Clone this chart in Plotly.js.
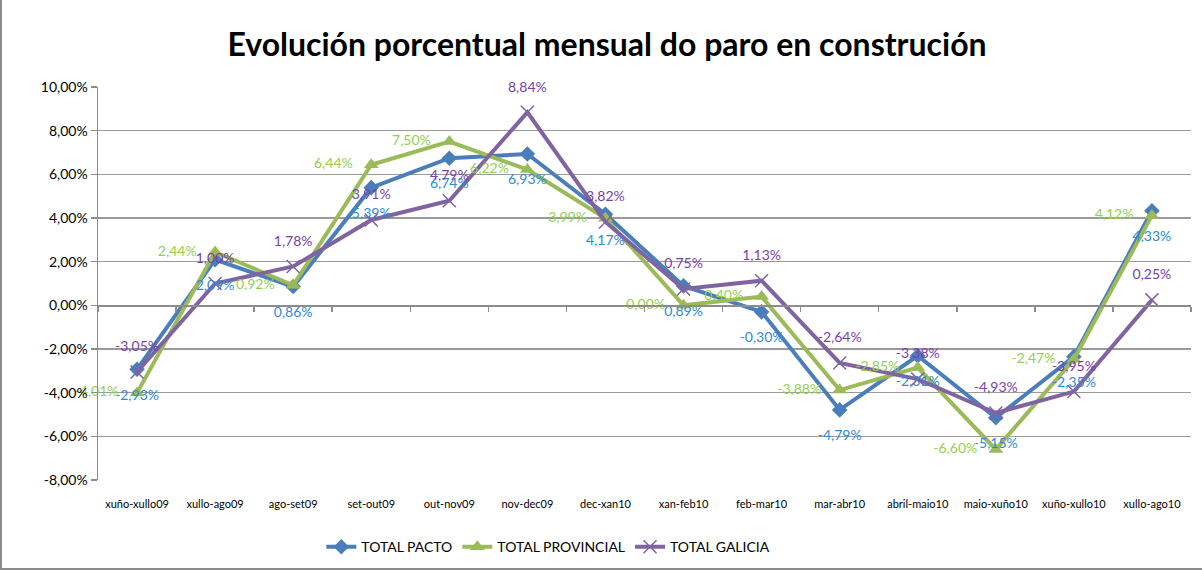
<!DOCTYPE html>
<html>
<head>
<meta charset="utf-8">
<script src="https://cdn.plot.ly/plotly-3.0.1.min.js"></script>
<style>
html,body{margin:0;padding:0;background:#fff;}
#wrap{position:relative;width:1202px;height:570px;}
#chart{position:absolute;left:0;top:0;width:1202px;height:570px;}
#frame{position:absolute;left:0;top:0;width:1202px;height:570px;box-sizing:border-box;border-left:2px solid #8c8c8c;border-bottom:2px solid #8c8c8c;pointer-events:none;}
</style>
</head>
<body>
<div id="wrap"><div id="chart"></div><div id="frame"></div></div>
<script>
const categories = ["xuño-xullo09","xullo-ago09","ago-set09","set-out09","out-nov09","nov-dec09","dec-xan10","xan-feb10","feb-mar10","mar-abr10","abril-maio10","maio-xuño10","xuño-xullo10","xullo-ago10"];
const totalPacto = [-2.93, 2.09, 0.86, 5.39, 6.74, 6.93, 4.17, 0.89, -0.30, -4.79, -2.31, -5.15, -2.35, 4.33];
const totalProvincial = [-4.01, 2.44, 0.92, 6.44, 7.50, 6.22, 3.99, 0.00, 0.40, -3.88, -2.85, -6.60, -2.47, 4.12];
const totalGalicia = [-3.05, 1.00, 1.78, 3.91, 4.79, 8.84, 3.82, 0.75, 1.13, -2.64, -3.38, -4.93, -3.95, 0.25];
const yTicks = [-8, -6, -4, -2, 0, 2, 4, 6, 8, 10];
const yTickText = yTicks.map(v => v.toFixed(2).replace(".", ",") + "%");

const font = "Lato, 'Open Sans', sans-serif";
const series = [
  {name: "TOTAL PACTO", y: totalPacto, line: "#4A7EBB", text: "#2E8AD4", symbol: "diamond", msize: 12, pos: "bottom center", pad: 30},
  {name: "TOTAL PROVINCIAL", y: totalProvincial, line: "#9BBB59", text: "#92D050", symbol: "triangle-up", msize: 13, pos: "middle left", pad: 28},
  {name: "TOTAL GALICIA", y: totalGalicia, line: "#8064A2", text: "#7A3FA8", symbol: "x-thin", msize: 13, pos: "top center", pad: 26}
];

const traces = [];
series.forEach(s => {
  traces.push({
    name: s.name, x: categories, y: s.y, type: "scatter", mode: "lines+markers",
    line: {color: s.line, width: 4},
    marker: {symbol: s.symbol, size: s.msize, color: s.line, line: {color: s.line, width: s.symbol === "x-thin" ? 1.5 : 0}},
    hoverinfo: "skip"
  });
});
series.forEach(s => {
  traces.push({
    x: categories, y: s.y, type: "scatter", mode: "markers+text", showlegend: false, cliponaxis: false,
    marker: {size: s.pad, opacity: 0},
    texttemplate: "%{y:.2f}%", textposition: s.pos,
    textfont: {family: font, size: 14, color: s.text}, hoverinfo: "skip"
  });
});
traces.push({x: categories, y: categories.map(() => null), xaxis: "x2", type: "scatter", mode: "lines", showlegend: false, hoverinfo: "skip"});

const layout = {
  width: 1202, height: 570,
  paper_bgcolor: "#ffffff", plot_bgcolor: "#ffffff",
  font: {family: font, color: "#000"},
  separators: ",.",
  margin: {l: 98, r: 11, t: 87, b: 90},
  title: {text: "<b>Evolución porcentual mensual do paro en construción</b>", font: {family: font, size: 32, color: "#000"}, x: 0.505, xanchor: "center", y: 0.921, yanchor: "middle"},
  xaxis: {
    type: "category", range: [-0.5, 13.5], showgrid: false, zeroline: false, showline: false,
    ticks: "outside", ticklen: 14, tickcolor: "rgba(0,0,0,0)",
    tickfont: {family: font, size: 11, color: "#000"}, fixedrange: true
  },
  xaxis2: {
    type: "category", matches: "x", overlaying: "x", anchor: "free", position: 8/18,
    showline: true, linecolor: "#8c8c8c", linewidth: 1.5, showgrid: false, zeroline: false,
    ticks: "outside", tickson: "boundaries", ticklen: 5, tickcolor: "#8c8c8c", tickwidth: 1.5,
    showticklabels: false
  },
  yaxis: {
    range: [-8, 10], tickvals: yTicks, ticktext: yTickText,
    showgrid: true, gridcolor: "#9a9a9a", gridwidth: 1.5, zeroline: false,
    showline: true, linecolor: "#8c8c8c", linewidth: 1.5,
    ticks: "outside", ticklen: 6, tickcolor: "#8c8c8c", tickwidth: 1.5,
    tickfont: {family: font, size: 14, color: "#000"}, fixedrange: true
  },
  legend: {orientation: "h", x: 0.412, xanchor: "center", yref: "container", y: 0.04, yanchor: "middle", font: {family: font, size: 14, color: "#000"}},
  showlegend: true
};

Plotly.newPlot("chart", traces, layout, {displayModeBar: false, staticPlot: true});
</script>
</body>
</html>
